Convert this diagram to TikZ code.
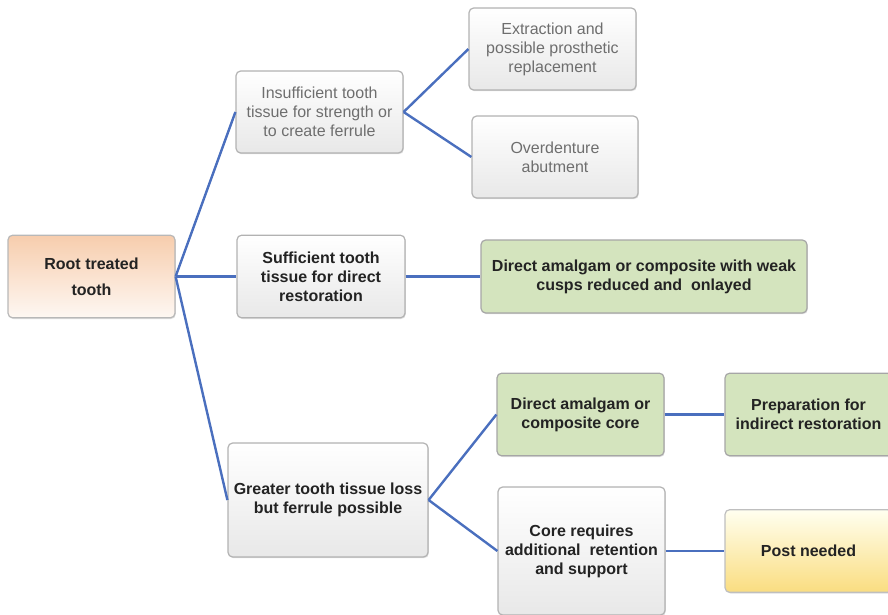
\documentclass[tikz,border=0pt]{standalone}
\usepackage{fontspec}
\setmainfont{Liberation Sans}
\usepackage{xcolor}
\usepackage{tikz}
\usetikzlibrary{shadows}
\definecolor{linkblue}{HTML}{4A6FBE}
\definecolor{boxline}{HTML}{B2B2B2}
\definecolor{greytext}{HTML}{6E6E6E}
\definecolor{darktext}{HTML}{232323}
\definecolor{greenfill}{HTML}{D4E4BE}
\definecolor{peach}{HTML}{F7CDAD}
\definecolor{yellowdeep}{HTML}{FADD80}

\begin{document}
\begin{tikzpicture}[
  x=0.75pt, y=-0.75pt,
  box/.style={rectangle, rounded corners=3.5pt, draw=boxline, line width=0.9pt,
              align=center, minimum width=125.25pt, minimum height=62pt,
              font=\fontsize{12}{14.25}\selectfont,
              drop shadow={shadow xshift=0.6pt, shadow yshift=-0.9pt, opacity=0.25}},
  greybox/.style={box, top color=white, bottom color=black!9},
  pale/.style={greybox, text=greytext},
  strong/.style={font=\fontsize{12}{14.25}\selectfont\bfseries, text=darktext},
  greenbox/.style={box, strong, fill=greenfill, draw=black!35},
  link/.style={draw=linkblue, line width=1.8pt},
]
\useasboundingbox (0,0) rectangle (888,614);

\node[box, strong, top color=peach, bottom color=peach!15, draw=black!28]
  (root) at (91.5,276.5) {Root treated\\[5pt]tooth};

\node[pale, minimum height=61.5pt] (insuf) at (319.5,112)
  {Insufficient tooth\\tissue for strength or\\to create ferrule};
\node[pale, minimum height=61.5pt] (extract) at (552.5,49)
  {Extraction and\\possible prosthetic\\replacement};
\node[pale, minimum width=124.5pt, minimum height=61.5pt] (overd) at (555,157)
  {Overdenture\\abutment};

\node[greybox, strong, minimum width=126pt] (suff) at (321,276.5)
  {Sufficient tooth\\tissue for direct\\restoration};
\node[greenbox, minimum width=244.5pt, minimum height=54.75pt] (weak) at (644,276.5)
  {Direct amalgam or composite with weak\\cusps reduced and\ \ onlayed};

\node[greybox, strong, minimum width=150pt, minimum height=85.5pt] (greater) at (328,500)
  {Greater tooth tissue loss\\but ferrule possible};
\node[greenbox] (dcore) at (580.5,414.5)
  {Direct amalgam or\\composite core};
\node[greenbox] (prep) at (808.5,414.5)
  {Preparation for\\indirect restoration};
\node[greybox, strong, minimum height=96pt] (coreq) at (581.5,551)
  {Core requires\\additional\ \ retention\\and support};
\node[box, strong, top color=yellow!6, bottom color=yellowdeep, draw=black!25]
  (post) at (808.5,551) {Post needed};

\draw[link] (root.east) -- (insuf.west);
\draw[link] (root.east) -- (suff.west);
\draw[link] (root.east) -- (greater.west);
\draw[link] (insuf.east) -- (extract.west);
\draw[link] (insuf.east) -- (overd.west);
\draw[link] (suff.east) -- (weak.west);
\draw[link] (greater.east) -- (dcore.west);
\draw[link] (greater.east) -- (coreq.west);
\draw[link] (dcore.east) -- (prep.west);
\draw[link] (coreq.east) -- (post.west);
\end{tikzpicture}
\end{document}
